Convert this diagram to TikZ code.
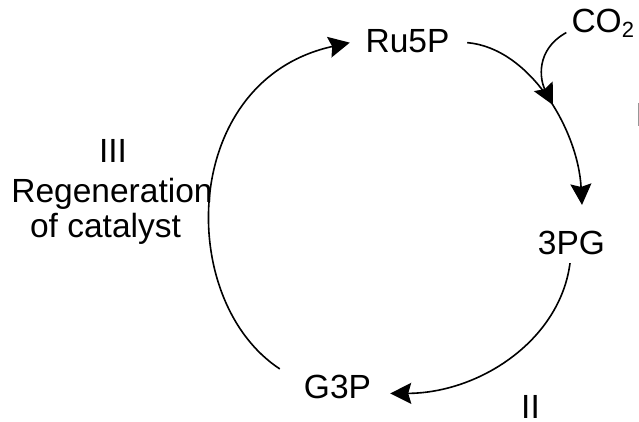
\documentclass[tikz,border=0pt]{standalone}
\usepackage{fontspec}
\setmainfont{Liberation Sans}
\usetikzlibrary{arrows.meta,calc}
\begin{document}
\begin{tikzpicture}[x=1pt,y=-1pt,
  lbl/.style={inner sep=0pt, anchor=base, font=\fontsize{33.5}{40}\selectfont},
  curve/.style={line width=1.6pt, -{Stealth[length=21pt,width=21pt,inset=3pt]}},
]
\useasboundingbox (0,0) rectangle (639,421);
\node[lbl] (ru5p) at (407.5,52) {Ru5P};
\node[lbl, anchor=base west] (co2) at (571.3,32) {CO\raisebox{-5pt}{\fontsize{22}{22}\selectfont 2}};
\node[lbl] (pg) at (571.5,254) {3PG};
\node[lbl] (g3p) at (337.5,398) {G3P};
\node[lbl] (two) at (530.5,418) {II};
\node[lbl] (three) at (113,162) {III};
\node[lbl] (regen) at (112,202) {Regeneration};
\node[lbl] (cat) at (105.5,237) {of catalyst};
\node[lbl, anchor=base west] (one) at (635.5,126) {I};
% III regeneration: G3P -> Ru5P
\draw[curve] ($(g3p.north west)+(-24,-5.5)$) .. controls (175,300) and (180,80) .. ($(ru5p.west)+(-15.6,2)$);
% Ru5P -> 3PG
\draw[curve] ($(ru5p.east)+(17.6,2)$) .. controls (530,48) and (578,130) .. ($(pg.north)+(10.5,-25.5)$);
\coordinate (meet) at (553,105);
% CO2 in
\draw[curve] ($(co2.west)+(-5,9.75)$) .. controls (535,50) and (540,80) .. (meet);
% II: 3PG -> G3P
\draw[curve] ($(pg.south)+(-1.5,8.6)$) .. controls (560,340) and (480,393) .. ($(g3p.east)+(19,7)$);
\end{tikzpicture}
\end{document}
